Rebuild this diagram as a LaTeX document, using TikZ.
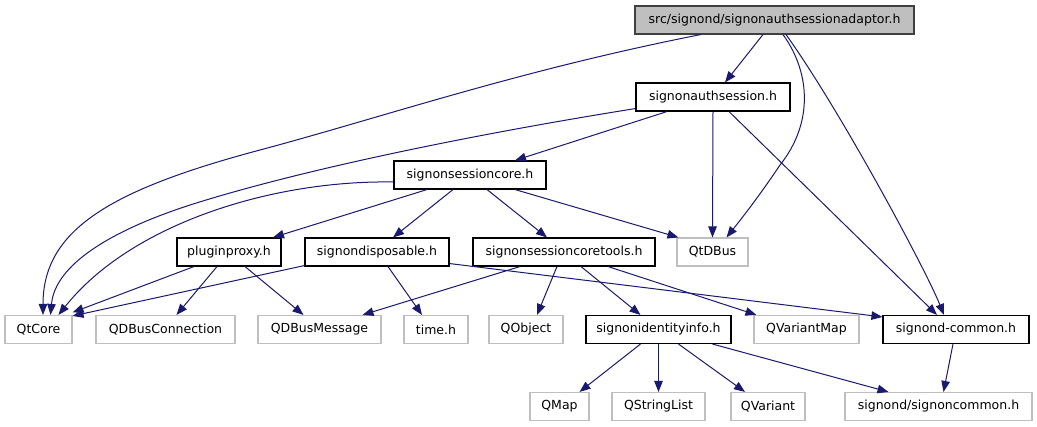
\documentclass[tikz,border=0pt]{standalone}
\usepackage{fontspec}
\setmainfont{DejaVu Sans}
\usetikzlibrary{arrows.meta}
\definecolor{edgeblue}{HTML}{191970}
\definecolor{extgray}{HTML}{BFBFBF}
\begin{document}
\begin{tikzpicture}[x=1pt,y=-1pt,
  nbox/.style={draw, minimum height=28pt, inner sep=0pt, line width=1.1pt,
    font=\fontsize{12.5}{14}\selectfont, text=black},
  docbox/.style={nbox, draw=black},
  extbox/.style={nbox, draw=extgray},
  mainbox/.style={nbox, draw=black!75, fill=extgray},
  edge/.style={draw=edgeblue, line width=1pt, -{Triangle[length=11pt,width=8.5pt]}}
]
\useasboundingbox (0,0) rectangle (1037,427);

% row 0
\node[mainbox, minimum width=279pt] (adaptor) at (774.5,20) {src/signond/signonauthsessionadaptor.h};
% row 1
\node[docbox, minimum width=154pt] (authsession) at (713,97) {signonauthsession.h};
% row 2
\node[docbox, minimum width=152pt] (sessioncore) at (470,175) {signonsessioncore.h};
% row 3
\node[docbox, minimum width=104pt] (pluginproxy) at (229,252) {pluginproxy.h};
\node[docbox, minimum width=144pt] (disposable) at (377,252) {signondisposable.h};
\node[docbox, minimum width=182pt] (coretools) at (564,252) {signonsessioncoretools.h};
\node[extbox, minimum width=71pt] (qtdbus) at (712.5,252) {QtDBus};
% row 4
\node[extbox, minimum width=67pt] (qtcore) at (38.5,329.5) {QtCore};
\node[extbox, minimum width=139pt] (qdbusconn) at (165.5,329.5) {QDBusConnection};
\node[extbox, minimum width=123pt] (qdbusmsg) at (319.5,329.5) {QDBusMessage};
\node[extbox, minimum width=64pt] (timeh) at (436,329.5) {time.h};
\node[extbox, minimum width=74pt] (qobject) at (526,329.5) {QObject};
\node[docbox, minimum width=145pt] (identity) at (658.5,329.5) {signonidentityinfo.h};
\node[extbox, minimum width=105pt] (qvariantmap) at (806.5,329.5) {QVariantMap};
\node[docbox, minimum width=146pt] (common) at (956,329.5) {signond-common.h};
% row 5
\node[extbox, minimum width=59pt] (qmap) at (559.5,406.5) {QMap};
\node[extbox, minimum width=93pt] (qstringlist) at (658.5,406.5) {QStringList};
\node[extbox, minimum width=74pt] (qvariant) at (768,406.5) {QVariant};
\node[extbox, minimum width=187pt] (signoncommon) at (938.5,406.5) {signond/signoncommon.h};

% edges from adaptor
\draw[edge] ([xshift=-73.5pt]adaptor.south) .. controls (520,70) and (380,118) .. (260,150)
  .. controls (110,190) and (43,230) .. ([xshift=4.5pt]qtcore.north);
\draw[edge] ([xshift=-11.5pt]adaptor.south) -- ([xshift=12pt]authsession.north);
\draw[edge] ([xshift=8.5pt]adaptor.south) .. controls (812,75) and (812,125) .. (780,165)
  .. controls (760,195) and (742,218) .. ([xshift=14pt]qtdbus.north);
\draw[edge] ([xshift=11.5pt]adaptor.south) .. controls (840,110) and (925,268) .. ([xshift=-12pt]common.north);

% edges from authsession
\draw[edge] ([yshift=3pt]authsession.south west) .. controls (470,135) and (300,170) .. (190,205)
  .. controls (110,231) and (55,265) .. ([xshift=12pt]qtcore.north);
\draw[edge] ([xshift=-46pt]authsession.south) -- ([xshift=45pt]sessioncore.north);
\draw[edge] (authsession.south) -- (qtdbus.north);
\draw[edge] ([xshift=16pt]authsession.south) -- ([xshift=-19pt]common.north);

% edges from sessioncore
\draw[edge] ([yshift=-7pt]sessioncore.west) .. controls (270,180) and (130,225) .. ([xshift=20pt]qtcore.north);
\draw[edge] ([xshift=-43pt]sessioncore.south) -- ([xshift=44pt]pluginproxy.north);
\draw[edge] ([xshift=-17pt]sessioncore.south) -- ([xshift=16pt]disposable.north);
\draw[edge] ([xshift=17pt]sessioncore.south) -- ([xshift=-17pt]coretools.north);
\draw[edge] ([xshift=45pt]sessioncore.south) -- ([xshift=2pt]qtdbus.north west);

% edges from pluginproxy
\draw[edge] ([xshift=-35pt]pluginproxy.south) -- ([yshift=2.5pt]qtcore.north east);
\draw[edge] ([xshift=-12pt]pluginproxy.south) -- ([xshift=11pt]qdbusconn.north);
\draw[edge] ([xshift=16pt]pluginproxy.south) -- ([xshift=-16pt]qdbusmsg.north);

% edges from disposable
\draw[edge] ([yshift=1pt]disposable.south west) -- ([yshift=-1pt]qtcore.north east);
\draw[edge] ([xshift=11pt]disposable.south) -- ([xshift=-14pt]timeh.north);
\draw[edge] ([yshift=3pt]disposable.south east) -- ([yshift=-2pt]common.north west);

% edges from coretools
\draw[edge] ([xshift=-44pt]coretools.south) -- ([xshift=43pt]qdbusmsg.north);
\draw[edge] ([xshift=-7pt]coretools.south) -- ([xshift=11pt]qobject.north);
\draw[edge] ([xshift=17pt]coretools.south) -- ([xshift=-18pt]identity.north);
\draw[edge] ([xshift=44pt]coretools.south) -- ([xshift=3pt]qvariantmap.north west);

% edges from identity
\draw[edge] ([xshift=-18pt]identity.south) -- ([xshift=20pt]qmap.north);
\draw[edge] (identity.south) -- (qstringlist.north);
\draw[edge] ([xshift=20pt]identity.south) -- ([xshift=-23pt]qvariant.north);
\draw[edge] ([xshift=54pt]identity.south) -- ([xshift=-50pt]signoncommon.north);

% edge from common
\draw[edge] ([xshift=-3pt]common.south) -- ([xshift=5pt]signoncommon.north);
\end{tikzpicture}
\end{document}
